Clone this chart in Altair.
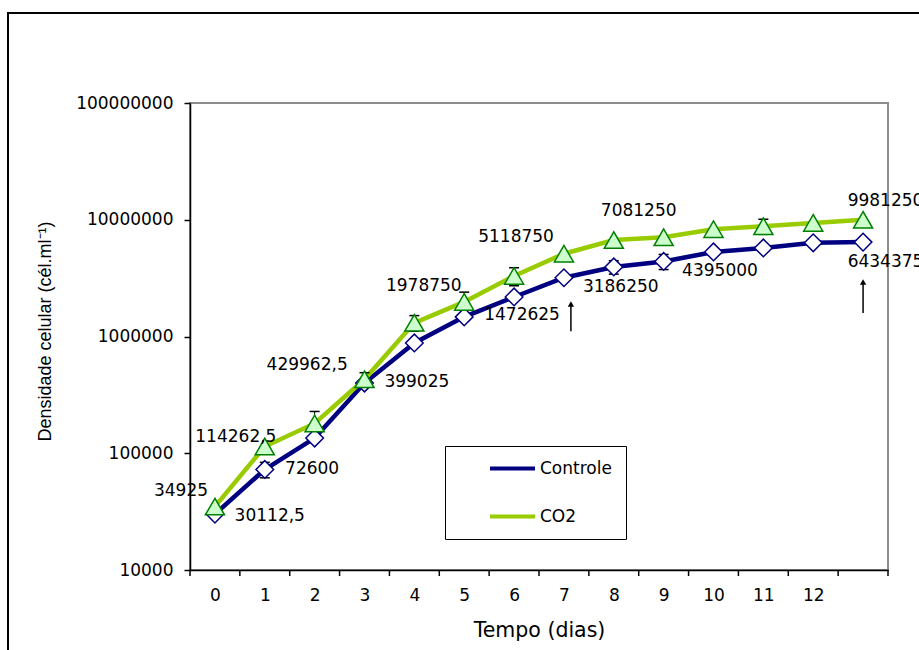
import altair as alt
import pandas as pd

# ---------------- data ----------------
series_names = ["Controle", "CO2"]
days = list(range(14))                      # day 13 has no tick label
x_tick_labels = [str(d) for d in range(13)]

controle = [30112.5, 72600, 135000, 399025, 880000, 1472625, 2180000,
            3186250, 3940000, 4395000, 5300000, 5730000, 6350000, 6434375]
co2 = [34925, 114262.5, 180000, 429962.5, 1310000, 1978750, 3300000,
       5118750, 6700000, 7081250, 8300000, 8800000, 9400000, 9981250]

controle_err = [0, 11000, 0, 0, 0, 0, 0, 0, 520000, 650000, 0, 0, 0, 0]
co2_err = [0, 0, 48000, 60000, 200000, 420000, 580000, 0, 0, 0, 0, 1300000, 0, 0]

controle_label_text = ["30112,5", "72600", "399025", "1472625", "3186250", "4395000", "6434375"]
controle_label_day = [1.10, 1.95, 4.05, 6.16, 8.14, 10.13, 13.45]
controle_label_value = [29000, 73300, 407000, 1530000, 2650000, 3640000, 4350000]

co2_label_text = ["34925", "114262,5", "429962,5", "1978750", "5118750", "7081250", "9981250"]
co2_label_day = [-0.68, 0.42, 1.85, 4.19, 6.04, 8.50, 13.45]
co2_label_value = [47500, 138000, 570000, 2710000, 7110000, 11900000, 14500000]

arrow_day = [7.14, 13.0]
arrow_base = [1110000, 1590000]
arrow_head = [1900000, 2930000]

y_ticks = [10000, 100000, 1000000, 10000000, 100000000]

# ---------------- tables ----------------
rows = []
for name, vals, errs in [("Controle", controle, controle_err), ("CO2", co2, co2_err)]:
    for d, v, e in zip(days, vals, errs):
        rows.append({"day": d, "value": v, "err": e, "lo": v - e, "hi": v + e,
                     "series": name, "serie_linha": name})
df = pd.DataFrame(rows)

labels = pd.DataFrame({
    "day": controle_label_day + co2_label_day,
    "value": controle_label_value + co2_label_value,
    "text": controle_label_text + co2_label_text,
})
arrows = pd.DataFrame({"day": arrow_day, "base": arrow_base, "head": arrow_head})
frame = pd.DataFrame({"f": [0]})
# category boundaries (Excel puts the x ticks between the days)
tick_df = pd.DataFrame({"day": [d - 0.5 for d in days] + [days[-1] + 0.5]})

NAVY = "#000080"
LIME = "#99CC00"
PLOT_W, PLOT_H = 698, 467

# the marker scales get one unused extra domain entry so that Vega-Lite keeps the
# marker legend separate from the line legend (both are overlaid to form one key)
marker_domain = series_names + ["_"]

x_scale = alt.Scale(domain=[-0.5, 13.5], nice=False, zero=False)
y_scale = alt.Scale(type="log", domain=[10000, 100000000], nice=False)

x_axis = alt.Axis(
    values=[int(v) for v in x_tick_labels], format="d",
    ticks=False, labelOverlap=False, labelFlush=False, grid=False,
    labelPadding=17,
    title="Tempo (dias)", titleFont="DejaVu Sans", titleFontSize=20.5,
    titleBaseline="middle", titleY=60,
)
y_axis = alt.Axis(
    values=y_ticks, format="d", labelOverlap=False, labelFlush=False, grid=False,
    tickSize=6, labelPadding=11,
    title="Densidade celular (cél.ml⁻¹)", titleFont="Liberation Sans", titleFontSize=18,
    titleAngle=270, titleAlign="center", titleBaseline="middle", titleX=-145, titleY=228,
)

X = alt.X("day:Q", scale=x_scale, axis=x_axis)
Y = alt.Y("value:Q", scale=y_scale, axis=y_axis)

line_legend = alt.Legend(
    orient="none", legendX=255, legendY=343, title=None, direction="vertical",
    symbolType="stroke", symbolSize=2025, symbolStrokeWidth=4, symbolOffset=29,
    clipHeight=17,
    labelFont="DejaVu Sans", labelFontSize=17, labelColor="black", labelOffset=3,
    rowPadding=30, padding=14, strokeColor="black",
)
point_legend = alt.Legend(
    orient="none", legendX=255, legendY=343, title=None, direction="vertical",
    values=series_names,
    symbolSize=110, symbolStrokeWidth=1.5, symbolOffset=45,
    labelFont="DejaVu Sans", labelFontSize=17, labelOpacity=0, labelOffset=5,
    rowPadding=30, padding=14,
)

frame_layer = alt.Chart(frame).mark_rect(fillOpacity=0, stroke="black", strokeWidth=2).encode(
    x=alt.value(-182), y=alt.value(-90), x2=alt.value(760), y2=alt.value(600)
)

x_ticks_layer = alt.Chart(tick_df).mark_rule(color="black", strokeWidth=1.5).encode(
    x=alt.X("day:Q", scale=x_scale), y=alt.value(PLOT_H), y2=alt.value(PLOT_H + 6)
)

lines = alt.Chart(df).mark_line(strokeWidth=4.5).encode(
    x=X, y=Y,
    color=alt.Color("serie_linha:N",
                    scale=alt.Scale(domain=series_names, range=[NAVY, LIME]), legend=line_legend),
)

err_df = alt.Chart(df).transform_filter("datum.err > 0")
err_rules = err_df.mark_rule(color="black", strokeWidth=1).encode(
    x=alt.X("day:Q", scale=x_scale), y=alt.Y("lo:Q", scale=y_scale), y2="hi:Q"
)
caps_lo = err_df.mark_point(shape="stroke", size=100, color="black", strokeWidth=1.5, opacity=1).encode(
    x=alt.X("day:Q", scale=x_scale), y=alt.Y("lo:Q", scale=y_scale)
)
caps_hi = err_df.mark_point(shape="stroke", size=100, color="black", strokeWidth=1.5, opacity=1).encode(
    x=alt.X("day:Q", scale=x_scale), y=alt.Y("hi:Q", scale=y_scale)
)

points = alt.Chart(df).mark_point(filled=False, strokeWidth=1.5, opacity=1, fillOpacity=1).encode(
    x=X, y=Y,
    shape=alt.Shape("series:N", scale=alt.Scale(domain=marker_domain,
                                                 range=["diamond", "triangle-up", "circle"]),
                    legend=point_legend),
    fill=alt.Fill("series:N", scale=alt.Scale(domain=marker_domain,
                                               range=["white", "#CCFFCC", "white"]),
                  legend=point_legend),
    stroke=alt.Stroke("series:N", scale=alt.Scale(domain=marker_domain,
                                                   range=[NAVY, "#008000", "black"]),
                      legend=point_legend),
    size=alt.Size("series:N", scale=alt.Scale(domain=marker_domain, range=[310, 420, 100]),
                  legend=None),
)

text_layer = alt.Chart(labels).mark_text(
    font="DejaVu Sans", fontSize=17, color="black", align="center", baseline="middle"
).encode(x=alt.X("day:Q", scale=x_scale), y=alt.Y("value:Q", scale=y_scale), text="text:N")

arrow_shaft = alt.Chart(arrows).mark_rule(color="black", strokeWidth=1.5).encode(
    x=alt.X("day:Q", scale=x_scale), y=alt.Y("base:Q", scale=y_scale), y2="head:Q"
)
arrow_tip = alt.Chart(arrows).mark_point(shape="triangle-up", size=40, filled=True, color="black",
                                         opacity=1).encode(
    x=alt.X("day:Q", scale=x_scale), y=alt.Y("head:Q", scale=y_scale)
)

chart = alt.layer(
    frame_layer, x_ticks_layer, lines, err_rules, caps_lo, caps_hi, points, text_layer,
    arrow_shaft, arrow_tip
).properties(
    width=PLOT_W, height=PLOT_H,
    autosize=alt.AutoSizeParams(type="none"),
    padding={"left": 190, "top": 103, "right": 31, "bottom": 80},
    background="white",
).configure_axis(
    labelFont="DejaVu Sans", labelFontSize=17, labelColor="black",
    titleColor="black", titleFontWeight="normal",
    domainColor="black", domainWidth=1.5, tickColor="black", tickWidth=1.5,
).configure_view(
    stroke="#8c8c8c", strokeWidth=2
)

chart.save("out.html", embed_options={"renderer": "svg", "actions": False})
